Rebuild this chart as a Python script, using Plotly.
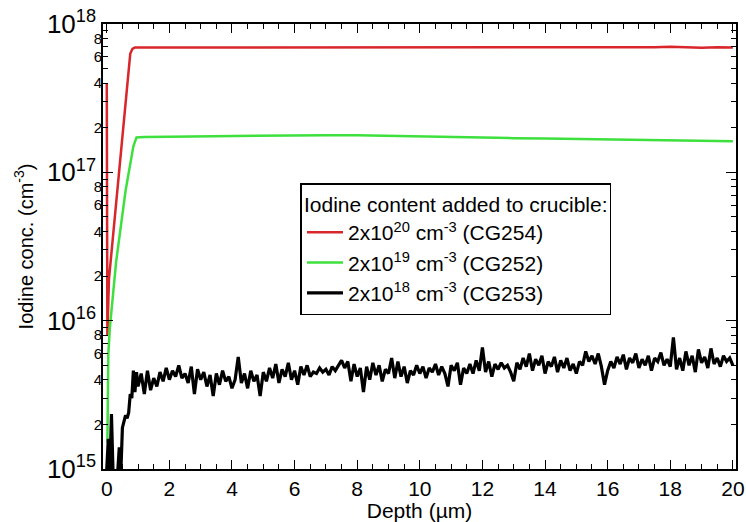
import plotly.graph_objects as go

# ---------------- data ----------------
red_depth = [0.0, 0.02, 0.07, 0.75, 0.82, 0.9, 1.5, 3, 5, 7, 9, 11, 13, 15, 16, 16.5, 17, 17.5, 18, 18.5, 19, 19.5, 20]
red_conc = [4.0e17, 8.0e15, 1.9e16, 6.3e17, 6.8e17, 6.95e17, 6.95e17, 6.95e17, 6.95e17, 6.95e17, 6.95e17, 6.95e17,
            6.95e17, 6.95e17, 6.95e17, 6.9e17, 6.92e17, 6.97e17, 7.02e17, 6.97e17, 6.92e17, 6.97e17, 6.95e17]

green_depth = [0.02, 0.05, 0.1, 0.3, 0.6, 0.85, 0.95, 1.2, 2, 3, 4, 5, 6, 7, 8, 9, 10, 11, 12, 13, 14, 15, 16, 17, 18, 19, 20]
green_conc = [1.5e15, 6.0e15, 9.0e15, 2.5e16, 7.5e16, 1.5e17, 1.72e17, 1.73e17, 1.74e17, 1.75e17, 1.76e17, 1.77e17,
              1.78e17, 1.78e17, 1.78e17, 1.76e17, 1.74e17, 1.73e17, 1.72e17, 1.70e17, 1.69e17, 1.68e17, 1.67e17,
              1.66e17, 1.65e17, 1.63e17, 1.62e17]

black_depth = [0.0, 0.05, 0.1, 0.15, 0.2, 0.25, 0.3, 0.35, 0.4, 0.45, 0.5, 0.55, 0.6, 0.65, 0.7, 0.75, 0.8, 0.85, 0.9, 0.95,
               1.0, 1.1, 1.2, 1.3, 1.4, 1.5, 1.6, 1.7, 1.8, 1.9, 2.0, 2.1, 2.2, 2.3, 2.4, 2.5, 2.6, 2.7, 2.8, 2.9,
               3.0, 3.1, 3.2, 3.3, 3.4, 3.5, 3.6, 3.7, 3.8, 3.9, 4.0, 4.1, 4.2, 4.3, 4.4, 4.5, 4.6, 4.7, 4.8, 4.9,
               5.0, 5.1, 5.2, 5.3, 5.4, 5.5, 5.6, 5.7, 5.8, 5.9, 6.0, 6.1, 6.2, 6.3, 6.4, 6.5, 6.6, 6.7, 6.8, 6.9,
               7.0, 7.1, 7.2, 7.3, 7.4, 7.5, 7.6, 7.7, 7.8, 7.9, 8.0, 8.1, 8.2, 8.3, 8.4, 8.5, 8.6, 8.7, 8.8, 8.9,
               9.0, 9.1, 9.2, 9.3, 9.4, 9.5, 9.6, 9.7, 9.8, 9.9, 10.0, 10.1, 10.2, 10.3, 10.4, 10.5, 10.6, 10.7, 10.8, 10.9,
               11.0, 11.1, 11.2, 11.3, 11.4, 11.5, 11.6, 11.7, 11.8, 11.9, 12.0, 12.1, 12.2, 12.3, 12.4, 12.5, 12.6, 12.7, 12.8, 12.9,
               13.0, 13.1, 13.2, 13.3, 13.4, 13.5, 13.6, 13.7, 13.8, 13.9, 14.0, 14.1, 14.2, 14.3, 14.4, 14.5, 14.6, 14.7, 14.8, 14.9,
               15.0, 15.1, 15.2, 15.3, 15.4, 15.5, 15.6, 15.7, 15.8, 15.9, 16.0, 16.1, 16.2, 16.3, 16.4, 16.5, 16.6, 16.7, 16.8, 16.9,
               17.0, 17.1, 17.2, 17.3, 17.4, 17.5, 17.6, 17.7, 17.8, 17.9, 18.0, 18.1, 18.2, 18.3, 18.4, 18.5, 18.6, 18.7, 18.8, 18.9,
               19.0, 19.1, 19.2, 19.3, 19.4, 19.5, 19.6, 19.7, 19.8, 19.9, 20.0]
# concentration in units of 1e15 cm^-3
black_conc_e15 = [1.0, 1.6, 0.95, 2.35, 0.95, 0.9, 0.9, 0.95, 1.4, 0.95, 1.9, 2.1, 2.3, 2.2, 2.4, 3.2, 3.0, 4.6, 3.3, 4.5,
                  3.6, 4.4, 3.2, 4.6, 3.4, 4.1, 3.6, 4.5, 3.9, 4.8, 4.0, 4.6, 4.2, 5.0, 4.1, 4.4, 3.8, 4.9, 3.2, 4.7,
                  4.0, 4.5, 3.6, 4.3, 3.1, 4.4, 3.7, 4.6, 3.9, 4.2, 3.5, 4.0, 5.7, 3.8, 4.4, 3.5, 4.6, 3.9, 4.3, 3.1,
                  4.5, 3.9, 4.8, 4.1, 5.1, 3.8, 4.7, 4.2, 5.2, 4.0, 4.6, 3.7, 4.9, 4.3, 5.0, 4.2, 4.5, 4.4, 4.8, 4.5,
                  4.7, 4.3, 4.9, 4.6, 5.0, 5.4, 4.8, 5.3, 3.9, 5.1, 4.2, 4.8, 3.3, 4.9, 4.0, 5.2, 4.3, 5.0, 3.9, 4.7,
                  4.4, 5.6, 4.1, 5.3, 4.2, 4.9, 3.8, 4.6, 4.3, 5.0, 4.4, 4.9, 4.1, 4.8, 4.5, 5.1, 4.3, 4.9, 4.4, 3.6,
                  5.0, 4.6, 5.2, 3.7, 4.8, 4.4, 5.1, 4.4, 5.4, 4.6, 6.6, 4.5, 5.3, 4.2, 5.1, 4.7, 5.2, 4.8, 5.0, 4.5,
                  3.9, 5.2, 4.7, 5.6, 4.9, 6.0, 4.6, 5.5, 5.0, 5.8, 4.4, 5.3, 4.9, 5.7, 4.5, 5.4, 4.8, 5.6, 4.6, 5.1,
                  4.4, 5.3, 5.0, 6.2, 5.3, 5.8, 5.1, 6.0, 4.9, 3.7, 4.6, 5.3, 4.8, 5.7, 5.1, 5.9, 4.7, 5.6, 5.2, 6.0,
                  4.8, 5.5, 5.0, 5.8, 4.6, 5.6, 5.3, 6.1, 5.0, 5.5, 4.9, 7.7, 4.7, 5.6, 4.6, 6.2, 5.0, 5.8, 4.5, 6.4,
                  5.2, 5.7, 4.8, 6.5, 5.1, 5.6, 4.9, 5.8, 5.3, 5.6, 5.0]
black_conc = [v * 1e15 for v in black_conc_e15]

series_names = ["2x10<sup>20</sup> cm<sup>-3</sup> (CG254)",
                "2x10<sup>19</sup> cm<sup>-3</sup> (CG252)",
                "2x10<sup>18</sup> cm<sup>-3</sup> (CG253)"]
legend_title = "Iodine content added to crucible:"

x_ticks = [0, 2, 4, 6, 8, 10, 12, 14, 16, 18, 20]
decades = [1e15, 1e16, 1e17, 1e18]
decade_text = ["10<sup>15</sup>", "10<sup>16</sup>", "10<sup>17</sup>", "10<sup>18</sup>"]
digit_vals = [d * m for d in [1e15, 1e16, 1e17] for m in (2, 4, 6, 8)]
digit_text = ["2", "4", "6", "8"] * 3
minor_vals = [d * m for d in [1e15, 1e16, 1e17] for m in (2, 3, 4, 5, 6, 7, 8, 9)]

FONT = "Liberation Sans, Arial, Helvetica, sans-serif"

fig = go.Figure()
fig.add_trace(go.Scatter(x=red_depth, y=red_conc, mode="lines", name=series_names[0],
                         line=dict(color="#d9262a", width=2.5)))
fig.add_trace(go.Scatter(x=green_depth, y=green_conc, mode="lines", name=series_names[1],
                         line=dict(color="#3de03d", width=2.5)))
fig.add_trace(go.Scatter(x=black_depth, y=black_conc, mode="lines", name=series_names[2],
                         line=dict(color="black", width=3.2)))
# helper trace for the digit tick labels axis (no visible marks)
fig.add_trace(go.Scatter(x=[None], y=[None], yaxis="y2", showlegend=False, hoverinfo="skip"))

fig.update_layout(
    width=746, height=522,
    margin=dict(l=103, r=10, t=24, b=53),
    paper_bgcolor="white", plot_bgcolor="white",
    font=dict(family=FONT, color="black"),
    showlegend=True,
    legend=dict(
        x=0.312, y=0.642, xanchor="left", yanchor="top",
        bgcolor="white", bordercolor="black", borderwidth=1.5,
        font=dict(size=21, family=FONT),
        title=dict(text=legend_title, font=dict(size=21, family=FONT), side="top"),
        itemwidth=36, tracegroupgap=0,
    ),
    xaxis=dict(
        range=[-0.12, 20.1], tickvals=x_ticks, ticks="inside", ticklen=9, tickwidth=1.3,
        tickcolor="black", showline=True, linecolor="black", linewidth=1.5, mirror="ticks",
        showgrid=False, zeroline=False, automargin=False, tickfont=dict(size=21, family=FONT),
        minor=dict(dtick=0.5, tick0=0, ticks="inside", ticklen=5, tickwidth=1.2, tickcolor="black"),
        title=dict(text="Depth (µm)", font=dict(size=21, family=FONT), standoff=2),
    ),
    yaxis=dict(
        type="log", range=[15, 18], tickvals=decades, ticktext=decade_text,
        ticks="inside", ticklen=10, tickwidth=1.3, tickcolor="black",
        showline=True, linecolor="black", linewidth=1.5, mirror="ticks",
        showgrid=False, zeroline=False, automargin=False,
        tickfont=dict(size=26, family=FONT),
        minor=dict(tickvals=minor_vals, ticks="inside", ticklen=5, tickwidth=1.2, tickcolor="black"),
        title=dict(text="Iodine conc. (cm<sup>-3</sup>)", font=dict(size=20, family=FONT), standoff=8),
    ),
    yaxis2=dict(
        type="log", range=[15, 18], overlaying="y", side="left",
        tickvals=digit_vals, ticktext=digit_text, ticks="", showline=False,
        showgrid=False, zeroline=False, automargin=False,
        tickfont=dict(size=15, family=FONT),
    ),
)

fig.write_html("out.html")
